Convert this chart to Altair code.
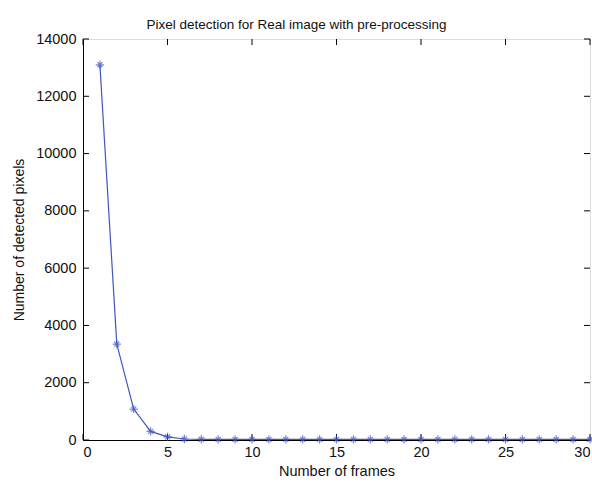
import altair as alt
import pandas as pd

frames = list(range(1, 31))
pixels = [13100, 3350, 1080, 300, 110, 35, 25, 22, 20, 20, 20, 20, 20, 20, 20,
          20, 20, 20, 20, 20, 20, 20, 20, 20, 20, 20, 20, 20, 20, 20]
x_ticks = [0, 5, 10, 15, 20, 25, 30]
y_ticks = [0, 2000, 4000, 6000, 8000, 10000, 12000, 14000]

df = pd.DataFrame({"frames": frames, "pixels": pixels})
xt = pd.DataFrame({"v": x_ticks})
yt = pd.DataFrame({"v": y_ticks})

FONT = "Liberation Sans"
BLUE = "#3f55c4"

xs = alt.Scale(domain=[0, 30], nice=False)
ys = alt.Scale(domain=[0, 14000], nice=False)

base = alt.Chart(df)

line = base.mark_line(color=BLUE, strokeWidth=1.2).encode(
    x=alt.X("frames:Q", scale=xs,
            axis=alt.Axis(values=x_ticks, title="Number of frames", grid=False, format="d",
                          tickSize=0, labelPadding=5, domainColor="black",
                          labelFontSize=14.5, titleFontSize=14.5, titleFontWeight="normal",
                          labelColor="#111", titleColor="#111", titlePadding=6,
                          labelFont=FONT, titleFont=FONT)),
    y=alt.Y("pixels:Q", scale=ys,
            axis=alt.Axis(values=y_ticks, title="Number of detected pixels", grid=False, format="d",
                          tickSize=0, labelPadding=7, domainColor="black",
                          labelFontSize=14.5, titleFontSize=14, titleFontWeight="normal",
                          labelColor="#111", titleColor="#111", titlePadding=9,
                          labelFont=FONT, titleFont=FONT)),
)

star = "M-1,0L1,0M0,-1L0,1M-0.6,-0.6L0.6,0.6M-0.6,0.6L0.6,-0.6"
pts = base.mark_point(shape=star, size=70, color=BLUE, filled=False, strokeWidth=1.2).encode(
    x=alt.X("frames:Q", scale=xs),
    y=alt.Y("pixels:Q", scale=ys),
)

tick_bottom = alt.Chart(xt).mark_rule(color="black").encode(
    x=alt.X("v:Q", scale=xs), y=alt.value(401), y2=alt.value(395))
tick_top = alt.Chart(xt).mark_rule(color="black").encode(
    x=alt.X("v:Q", scale=xs), y=alt.value(0), y2=alt.value(6))
tick_left = alt.Chart(yt).mark_rule(color="black").encode(
    y=alt.Y("v:Q", scale=ys), x=alt.value(0), x2=alt.value(6))
tick_right = alt.Chart(yt).mark_rule(color="black").encode(
    y=alt.Y("v:Q", scale=ys), x=alt.value(507), x2=alt.value(501))

chart = alt.layer(tick_bottom, tick_top, tick_left, tick_right, line, pts).properties(
    width=507, height=401,
    title=alt.Title("Pixel detection for Real image with pre-processing",
                    fontSize=13.5, fontWeight="normal", font=FONT, color="#111",
                    offset=0, dx=-40),
    autosize=alt.AutoSizeParams(type="none"),
    padding={"left": 83, "top": 39, "right": 2, "bottom": 43},
).configure_view(stroke="black", strokeWidth=1).configure(background="white")

chart.save("out.html", embed_options={"renderer": "svg", "actions": False})
